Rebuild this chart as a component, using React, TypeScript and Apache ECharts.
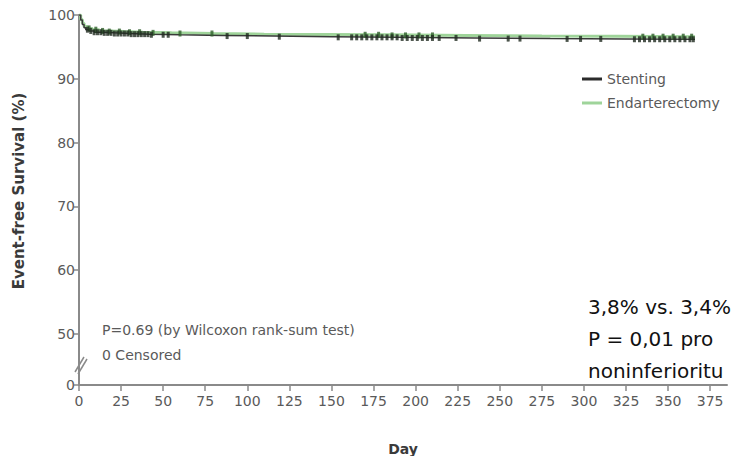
import React, { useEffect, useRef } from "react";
import * as echarts from "echarts";

// Kaplan-Meier step points (day, event-free survival %)
const stentDays = [0, 1, 2, 3, 4, 6, 9, 14, 21, 30, 42, 60, 85, 115, 150, 190, 235, 280, 325, 366];
const stentSurv = [100, 99.2, 98.5, 98.0, 97.7, 97.5, 97.3, 97.2, 97.1, 97.0, 96.9, 96.8, 96.7, 96.6, 96.5, 96.4, 96.3, 96.25, 96.2, 96.2];

const endoDays = [0, 1, 2, 3, 5, 8, 12, 18, 27, 38, 55, 80, 110, 145, 185, 230, 275, 320, 366];
const endoSurv = [100, 99.3, 98.7, 98.2, 97.9, 97.7, 97.5, 97.4, 97.3, 97.2, 97.1, 97.0, 96.95, 96.9, 96.8, 96.7, 96.65, 96.6, 96.6];

// Censoring times
const stentCensor = [
  5, 7, 9, 11, 13, 15, 17, 19, 21, 23, 25, 27, 29, 31, 33, 35, 37, 39, 41, 43,
  50, 53, 88, 100, 119, 154, 162, 165, 168, 171, 174, 177, 180, 183, 186, 189,
  192, 195, 198, 201, 204, 207, 210, 214, 224, 238, 255, 262, 290, 298, 310,
  330, 333, 336, 339, 342, 345, 348, 351, 354, 357, 360, 363, 365,
];
const endoCensor = [6, 10, 14, 18, 24, 30, 36, 44, 60, 79, 170, 178, 186, 194, 202, 210, 335, 341, 347, 353, 359, 364];

// Axis ticks
const xTicks = [0, 25, 50, 75, 100, 125, 150, 175, 200, 225, 250, 275, 300, 325, 350, 375];
const yTickValues = [42, 50, 60, 70, 80, 90, 100];
const yTickLabels = ["0", "50", "60", "70", "80", "90", "100"];

const seriesNames = ["Stenting", "Endarterectomy"];
const noteLines = ["P=0.69 (by Wilcoxon rank-sum test)", "0 Censored"];
const resultLines = ["3,8% vs. 3,4%", "P = 0,01 pro", "noninferioritu"];

const stepValue = (days: number[], surv: number[], d: number) => {
  let v = surv[0];
  for (let i = 0; i < days.length; i++) {
    if (days[i] <= d) v = surv[i];
  }
  return v;
};

const FONT = "'DejaVu Sans', sans-serif";
const AXIS_COLOR = "#8a8a8a";
const LABEL_COLOR = "#5a5a5a";

export default function App() {
  const ref = useRef<HTMLDivElement>(null);

  useEffect(() => {
    if (!ref.current) return;
    const chart = echarts.init(ref.current, null, { renderer: "svg" });

    const option: any = {
      animation: false,
      backgroundColor: "#ffffff",
      grid: { left: 79, top: 15, right: 12, bottom: 79, containLabel: false },
      legend: {
        orient: "vertical",
        left: 577,
        top: 67,
        itemWidth: 20,
        itemHeight: 3,
        itemGap: 10,
        icon: "rect",
        data: seriesNames,
        textStyle: { color: LABEL_COLOR, fontSize: 14, fontFamily: FONT },
      },
      xAxis: {
        type: "value",
        min: 0,
        max: 385,
        name: "Day",
        nameLocation: "middle",
        nameGap: 57,
        nameTextStyle: { color: "#3a3a3a", fontSize: 14, fontWeight: "bold", fontFamily: FONT },
        axisLine: { show: true, lineStyle: { color: AXIS_COLOR, width: 2 } },
        axisTick: { show: true, length: 6, customValues: xTicks, lineStyle: { color: AXIS_COLOR, width: 1.5 } },
        axisLabel: { customValues: xTicks, color: LABEL_COLOR, fontSize: 14, margin: 9, fontFamily: FONT },
        splitLine: { show: false },
      },
      yAxis: {
        type: "value",
        min: 42,
        max: 100,
        axisLine: { show: true, lineStyle: { color: AXIS_COLOR, width: 2 } },
        axisTick: { show: true, length: 5, customValues: yTickValues, lineStyle: { color: AXIS_COLOR, width: 1.5 } },
        axisLabel: {
          customValues: yTickValues,
          color: LABEL_COLOR,
          fontSize: 14,
          margin: 4,
          fontFamily: FONT,
          formatter: (v: number) => {
            const i = yTickValues.indexOf(v);
            return i >= 0 ? yTickLabels[i] : "";
          },
        },
        splitLine: { show: false },
      },
      series: [
        {
          name: "Endarterectomy",
          type: "line",
          step: "end",
          showSymbol: false,
          symbol: "none",
          color: "#9fd49a",
          lineStyle: { color: "#9fd49a", width: 3 },
          data: endoDays.map((d, i) => [d, endoSurv[i]]),
          z: 2,
        },
        {
          name: "Stenting",
          type: "line",
          step: "end",
          showSymbol: false,
          symbol: "none",
          color: "#2b2b2b",
          lineStyle: { color: "#3a3a3a", width: 1.5 },
          data: stentDays.map((d, i) => [d, stentSurv[i]]),
          z: 3,
        },
        {
          name: "Endarterectomy censored",
          type: "scatter",
          symbol: "rect",
          symbolSize: [3, 6],
          itemStyle: { color: "#2f5f2c" },
          data: endoCensor.map((d) => [d, stepValue(endoDays, endoSurv, d)]),
          z: 4,
        },
        {
          name: "Stenting censored",
          type: "scatter",
          symbol: "rect",
          symbolSize: [3, 6],
          itemStyle: { color: "#1f2a1f" },
          data: stentCensor.map((d) => [d, stepValue(stentDays, stentSurv, d)]),
          z: 5,
        },
      ],
      graphic: [
        {
          type: "text",
          x: 19,
          y: 191,
          rotation: Math.PI / 2,
          style: {
            text: "Event-free Survival (%)",
            fill: "#3a3a3a",
            font: `bold 15px ${FONT}`,
            align: "center",
            verticalAlign: "middle",
          },
        },
        // broken-axis marks
        {
          type: "line",
          shape: { x1: 75, y1: 372, x2: 84, y2: 357 },
          style: { stroke: AXIS_COLOR, lineWidth: 1.5 },
        },
        {
          type: "line",
          shape: { x1: 78, y1: 374, x2: 87, y2: 359 },
          style: { stroke: AXIS_COLOR, lineWidth: 1.5 },
        },
        ...noteLines.map((t, i) => ({
          type: "text",
          x: 102,
          y: 330 + i * 25,
          style: {
            text: t,
            fill: LABEL_COLOR,
            font: `14px ${FONT}`,
            verticalAlign: "middle",
          },
        })),
        ...resultLines.map((t, i) => ({
          type: "text",
          x: 588,
          y: 317 + i * 32,
          style: {
            text: t,
            fill: "#111111",
            font: "20px 'DejaVu Sans', sans-serif",
            verticalAlign: "bottom",
          },
        })),
      ],
    };

    chart.setOption(option);
    return () => chart.dispose();
  }, []);

  return <div ref={ref} style={{ width: 739, height: 464, margin: -8 }} />;
}
